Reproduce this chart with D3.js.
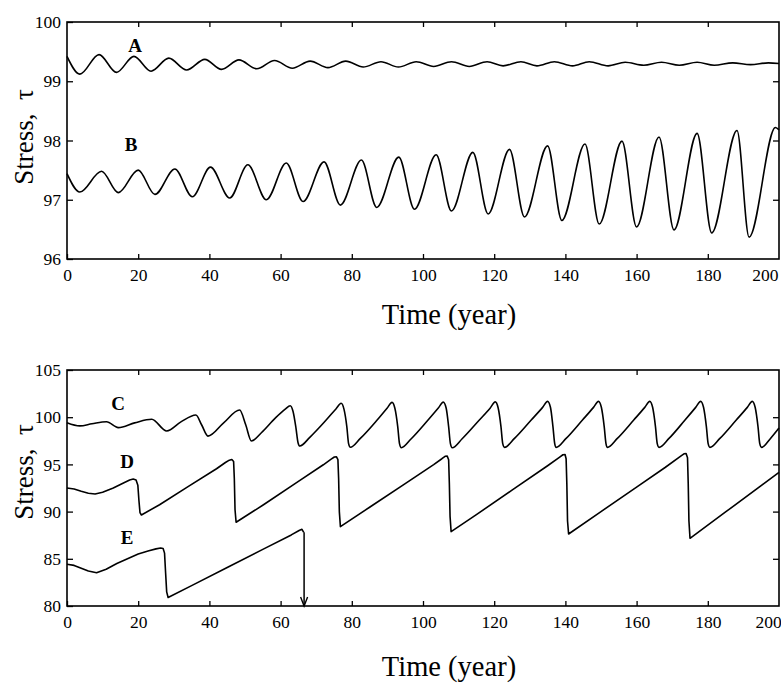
<!DOCTYPE html>
<html>
<head>
<meta charset="utf-8">
<script src="https://d3js.org/d3.v7.min.js"></script>
<style>
  body { margin: 0; background: #fff; }
  svg { display: block; }
</style>
</head>
<body>
<svg id="chart" width="781" height="683"></svg>
<script>
// ---- data: [time (year), stress] ----
let curveA = [
  [0, 99.42], [3.6, 99.12], [9, 99.45], [13.9, 99.15], [18.8, 99.42], [23.6, 99.17],
  [28.6, 99.39], [33.6, 99.19], [38.7, 99.37], [43.4, 99.2], [48.3, 99.36], [53.3, 99.21],
  [58.3, 99.35], [63.3, 99.22], [68.3, 99.34], [73.3, 99.23], [78.3, 99.34], [83.2, 99.24],
  [88.2, 99.33], [93.1, 99.24], [98.1, 99.33], [103, 99.25], [108, 99.33], [113, 99.25],
  [118, 99.33], [122.5, 99.26], [127.5, 99.33], [132, 99.26], [136.9, 99.33], [142, 99.26],
  [146.7, 99.33], [152, 99.26], [156.8, 99.32], [162, 99.27], [167, 99.32], [172, 99.27],
  [177, 99.32], [181.8, 99.27], [187, 99.31], [192, 99.28], [197, 99.31], [200, 99.3]
];

let curveB = [
  [0, 97.44], [3.6, 97.13], [9.7, 97.48], [14.4, 97.12], [20, 97.5], [24.7, 97.09],
  [30.3, 97.52], [35.2, 97.05], [40.3, 97.55], [45.7, 97.03], [50.8, 97.59], [56, 97.0],
  [61.6, 97.62], [66.3, 96.97], [72.2, 97.64], [76.8, 96.91], [82.7, 97.67], [87, 96.87],
  [93.2, 97.72], [97.6, 96.84], [103.7, 97.76], [108, 96.81], [114, 97.8], [118.3, 96.76],
  [124.3, 97.85], [128.5, 96.71], [135, 97.91], [139, 96.65], [145.5, 97.94], [149.5, 96.59],
  [155.9, 97.99], [160, 96.54], [166.3, 98.06], [170.5, 96.49], [177, 98.12], [181.1, 96.44],
  [188.2, 98.17], [191.6, 96.37], [199, 98.22], [200, 98.18]
];

let curveC = [
  [0, 99.42], [3.6, 99.08], [7, 99.3], [11.1, 99.52], [14.4, 98.9], [19, 99.4],
  [23.8, 99.78], [28, 98.54], [32, 99.5], [36.2, 100.23], [37.8, 99.2], [39.6, 98.0],
  [44, 99.4], [48.5, 100.76], [50.2, 99.2], [51.8, 97.48],
  [54.6, 98.35], [58.5, 99.9], [61.3, 100.85], [62.7, 101.22], [63.5, 100.6], [64.3, 98.9], [64.9, 97.3], [65.4, 96.95],
  [68.2, 97.87], [72.8, 99.7], [75.6, 100.9], [77, 101.47], [77.8, 100.85], [78.6, 99.0], [79.1, 97.2], [79.6, 96.81],
  [82.4, 97.75], [87, 99.65], [89.9, 100.95], [91.3, 101.57], [92.1, 100.95], [92.9, 99.0], [93.4, 97.2], [93.9, 96.77],
  [96.7, 97.72], [101.3, 99.65], [104.3, 100.97], [105.7, 101.6], [106.5, 100.97], [107.2, 99.0], [107.7, 97.2], [108.2, 96.77],
  [111, 97.72], [115.7, 99.65], [118.9, 100.98], [120.3, 101.62], [121.1, 101.0], [121.9, 99.0], [122.4, 97.2], [122.9, 96.8],
  [125.7, 97.75], [130.4, 99.7], [133.6, 101.04], [135, 101.68], [135.8, 101.05], [136.5, 99.0], [137, 97.2], [137.4, 96.8],
  [140.2, 97.75], [144.8, 99.7], [147.9, 101.04], [149.3, 101.68], [150.1, 101.05], [150.9, 99.0], [151.4, 97.2], [151.8, 96.8],
  [154.6, 97.75], [159.2, 99.7], [162.3, 101.04], [163.7, 101.68], [164.5, 101.05], [165.3, 99.0], [165.8, 97.2], [166.3, 96.8],
  [169.1, 97.75], [173.6, 99.7], [176.6, 101.04], [178, 101.68], [178.8, 101.05], [179.6, 99.0], [180.1, 97.2], [180.6, 96.8],
  [183.4, 97.75], [188, 99.7], [191.1, 101.04], [192.5, 101.68], [193.3, 101.05], [194.1, 99.0], [194.6, 97.2], [195.1, 96.8],
  [197.5, 97.7], [200, 98.85]
];

// D and E: straight ramps with sharp drops, drawn point to point
let curveD = [
  [0, 92.5], [2, 92.4], [4, 92.15], [6, 91.95], [7.9, 91.86], [10, 92.05], [13, 92.5], [16, 93.05],
  [17.6, 93.35], [18.6, 93.45], [19.4, 93.35], [19.9, 92.8], [20.2, 91.2], [20.5, 89.9], [20.9, 89.64],
  [26, 90.73], [34, 92.64], [42, 94.54], [44.5, 95.2], [45.6, 95.45], [46.3, 95.52], [46.8, 95.3],
  [47.0, 93.5], [47.2, 90.2], [47.5, 88.87],
  [55.3, 90.75], [65, 93.2], [72, 94.96], [74.2, 95.55], [75.1, 95.78], [75.7, 95.8], [76.1, 95.5],
  [76.3, 93.5], [76.5, 90.0], [76.8, 88.4],
  [85, 90.46], [95, 92.97], [103, 94.98], [105.3, 95.6], [106.2, 95.86], [106.8, 95.88], [107.2, 95.5],
  [107.4, 93.0], [107.6, 89.5], [107.9, 87.87],
  [115, 89.68], [125, 92.27], [135, 94.86], [138.3, 95.75], [139.3, 96.02], [139.9, 96.05], [140.2, 95.6],
  [140.4, 93.0], [140.6, 89.0], [140.9, 87.63],
  [150, 90.0], [160, 92.6], [168, 94.67], [172.3, 95.85], [173.3, 96.12], [173.9, 96.15], [174.3, 95.7],
  [174.5, 93.0], [174.7, 89.0], [175, 87.17],
  [185, 89.96], [200, 94.15]
];

let curveE = [
  [0, 84.42], [2, 84.3], [4, 84.0], [6, 83.7], [8.3, 83.53], [11, 83.9], [14, 84.5], [17, 85.0],
  [20, 85.5], [23, 85.85], [25, 86.05], [26.3, 86.15], [27, 86.1], [27.4, 85.6],
  [27.7, 83.5], [28.0, 81.5], [28.4, 80.9], [35, 82.16], [45, 84.08], [55, 86.0], [63, 87.53],
  [65.2, 88.0], [66.0, 88.12], [66.5, 87.8]
];

// E ends in a drop to the axis (arrow)
let arrowE = { t: 66.6, from: 87.8, to: 80 };

let xTicks = [0, 20, 40, 60, 80, 100, 120, 140, 160, 180, 200];
let topYTicks = [96, 97, 98, 99, 100];
let botYTicks = [80, 85, 90, 95, 100, 105];

let topLabels = [["A", 135, 45], ["B", 131, 144]];
let botLabels = [["C", 118, 403], ["D", 127, 461], ["E", 127, 537]];

// ---- drawing ----
let font = "'Liberation Serif', 'Times New Roman', serif";
let svg = d3.select("#chart");

let x = d3.scaleLinear().domain([0, 200]).range([67, 779]);

let panels = [
  { y: d3.scaleLinear().domain([96, 100]).range([259, 22]), ticks: topYTicks,
    curves: [[curveA, d3.curveMonotoneX], [curveB, d3.curveMonotoneX]],
    labels: topLabels, yTitle: 137, xTitle: 324, lastDx: -1, lastAnchor: "end" },
  { y: d3.scaleLinear().domain([80, 105]).range([606, 370]), ticks: botYTicks,
    curves: [[curveC, d3.curveMonotoneX], [curveD, d3.curveLinear], [curveE, d3.curveLinear]],
    labels: botLabels, yTitle: 472, xTitle: 676, lastDx: -24, lastAnchor: "start" }
];

panels.forEach(function(p, pi) {
  let y = p.y;
  let y0 = y.range()[0], y1 = y.range()[1];

  // bottom axis with labels
  let bx = svg.append("g")
    .attr("transform", "translate(0," + y0 + ")")
    .call(d3.axisBottom(x).tickValues(xTicks).tickSizeInner(-5).tickSizeOuter(0).tickPadding(10).tickFormat(d3.format("d")));
  bx.selectAll("text")
    .style("font-family", font).style("font-size", "17.5px").attr("fill", "#000");
  bx.selectAll(".tick").filter(d => d === 200).select("text")
    .attr("text-anchor", p.lastAnchor).attr("dx", p.lastDx);
  bx.selectAll(".tick").filter(d => d === 200).select("line").remove();

  // top axis, ticks only
  svg.append("g")
    .attr("transform", "translate(0," + y1 + ")")
    .call(d3.axisTop(x).tickValues(xTicks.slice(1, -1)).tickSizeInner(-5).tickSizeOuter(0).tickFormat(""));

  // left axis with labels
  let ly = svg.append("g")
    .attr("transform", "translate(" + x.range()[0] + ",0)")
    .call(d3.axisLeft(y).tickValues(p.ticks).tickSizeInner(-6).tickSizeOuter(0).tickPadding(6).tickFormat(d3.format("d")));
  ly.selectAll("text")
    .style("font-family", font).style("font-size", "17.5px").attr("fill", "#000");

  // right axis, ticks only
  svg.append("g")
    .attr("transform", "translate(" + x.range()[1] + ",0)")
    .call(d3.axisRight(y).tickValues(p.ticks.slice(1, -1)).tickSizeInner(-6).tickSizeOuter(0).tickFormat(""));

  svg.selectAll(".domain").remove();
  svg.selectAll(".tick line").attr("stroke", "#000").attr("stroke-width", 1.3);

  // frame
  svg.append("rect")
    .attr("x", x.range()[0]).attr("y", y1)
    .attr("width", x.range()[1] - x.range()[0]).attr("height", y0 - y1)
    .attr("fill", "none").attr("stroke", "#000").attr("stroke-width", 1.6);

  p.curves.forEach(function(c) {
    let line = d3.line()
      .x(d => x(d[0]))
      .y(d => y(d[1]))
      .curve(c[1]);
    svg.append("path")
      .datum(c[0])
      .attr("d", line)
      .attr("fill", "none")
      .attr("stroke", "#000")
      .attr("stroke-width", 1.6)
      .attr("stroke-linejoin", "round");
  });

  // curve letters
  svg.selectAll(".lab" + pi)
    .data(p.labels)
    .enter()
    .append("text")
    .attr("x", d => d[1])
    .attr("y", d => d[2] + 7)
    .attr("text-anchor", "middle")
    .style("font-family", font)
    .style("font-weight", "bold")
    .style("font-size", "19px")
    .text(d => d[0]);

  // axis titles
  svg.append("text")
    .attr("transform", "translate(33," + p.yTitle + ") rotate(-90)")
    .attr("text-anchor", "middle")
    .style("font-family", font)
    .style("font-size", "27px")
    .style("white-space", "pre")
    .text("Stress,  \u03c4");

  svg.append("text")
    .attr("x", 449)
    .attr("y", p.xTitle)
    .attr("text-anchor", "middle")
    .style("font-family", font)
    .style("font-size", "28.5px")
    .text("Time (year)");

  // arrow at end of E
  if (pi === 1) {
    let ax = x(arrowE.t);
    svg.append("line")
      .attr("x1", ax).attr("x2", ax)
      .attr("y1", y(arrowE.from)).attr("y2", y(arrowE.to))
      .attr("stroke", "#000").attr("stroke-width", 1.5);
    svg.append("path")
      .attr("d", "M" + (ax - 3.5) + "," + (y(arrowE.to) - 9) + "L" + ax + "," + y(arrowE.to) + "L" + (ax + 3.5) + "," + (y(arrowE.to) - 9))
      .attr("fill", "none").attr("stroke", "#000").attr("stroke-width", 1.4);
  }
});
</script>
</body>
</html>
